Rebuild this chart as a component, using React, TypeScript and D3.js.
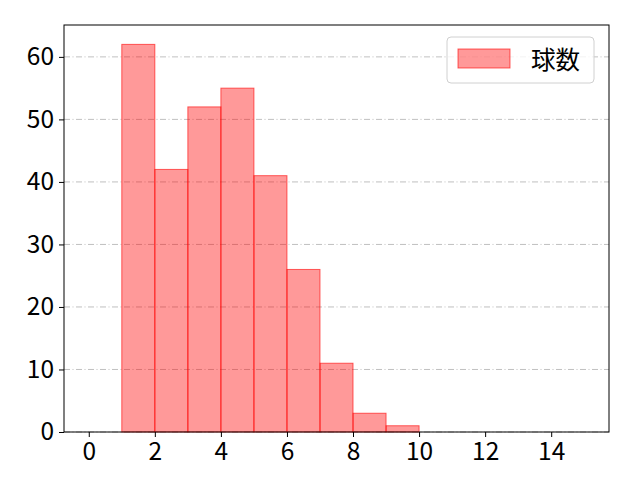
import { useEffect, useRef } from 'react';
import * as d3 from 'd3';

// bin edges 0..15, counts per bin
const binStarts = [0, 1, 2, 3, 4, 5, 6, 7, 8, 9, 10, 11, 12, 13, 14];
const counts = [0, 62, 42, 52, 55, 41, 26, 11, 3, 1, 0, 0, 0, 0, 0];
const xTicks = [0, 2, 4, 6, 8, 10, 12, 14];
const yTicks = [0, 10, 20, 30, 40, 50, 60];
const seriesName = '球数';

const App = () => {
  const ref = useRef<SVGSVGElement | null>(null);

  useEffect(() => {
    if (!ref.current) return;
    const svg = d3.select(ref.current);
    svg.selectAll('*').remove();

    const width = 640;
    const height = 480;
    const margin = { top: 25, right: 31, bottom: 48, left: 64 };
    const innerWidth = width - margin.left - margin.right;
    const innerHeight = height - margin.top - margin.bottom;
    const font = "'Noto Sans CJK JP', 'DejaVu Sans', sans-serif";
    const fontSize = '24.5px';

    const x = d3.scaleLinear().domain([-0.75, 15.75]).range([0, innerWidth]);
    const y = d3.scaleLinear().domain([0, 62 * 1.05]).range([innerHeight, 0]);

    svg.attr('width', width).attr('height', height);
    svg.append('rect').attr('width', width).attr('height', height).attr('fill', '#fff');

    const g = svg.append('g').attr('transform', `translate(${margin.left},${margin.top})`);

    // Grid lines
    g.selectAll('.grid')
      .data(yTicks)
      .enter()
      .append('line')
      .attr('x1', 0)
      .attr('x2', innerWidth)
      .attr('y1', d => y(d))
      .attr('y2', d => y(d))
      .attr('stroke', '#b0b0b0')
      .attr('stroke-width', 0.8)
      .attr('stroke-dasharray', '6,2.5,1,2.5');

    // Bars
    g.selectAll('.bar')
      .data(binStarts)
      .enter()
      .append('rect')
      .attr('x', d => x(d))
      .attr('y', (_, i) => y(counts[i]))
      .attr('width', d => x(d + 1) - x(d))
      .attr('height', (_, i) => innerHeight - y(counts[i]))
      .attr('fill', 'rgba(255,0,0,0.4)')
      .attr('stroke', 'rgba(255,0,0,0.6)')
      .attr('stroke-width', 1);

    // Axes frame
    g.append('rect')
      .attr('width', innerWidth)
      .attr('height', innerHeight)
      .attr('fill', 'none')
      .attr('stroke', '#000')
      .attr('stroke-width', 1);

    const xAxis = g.append('g')
      .attr('transform', `translate(0,${innerHeight})`)
      .call(d3.axisBottom(x).tickValues(xTicks).tickSize(5).tickPadding(3).tickFormat(d3.format('d')));
    xAxis.select('.domain').remove();

    const yAxis = g.append('g')
      .call(d3.axisLeft(y).tickValues(yTicks).tickSize(5).tickPadding(5).tickFormat(d3.format('d')));
    yAxis.select('.domain').remove();

    [xAxis, yAxis].forEach(a => {
      a.selectAll('text').style('font-family', font).style('font-size', fontSize).attr('fill', '#000');
      a.selectAll('line').attr('stroke', '#000');
    });
    xAxis.selectAll('text').attr('dy', '0.8em');

    // Legend
    const lg = g.append('g').attr('transform', `translate(${innerWidth - 162},${12})`);
    lg.append('rect')
      .attr('width', 147)
      .attr('height', 46)
      .attr('rx', 4)
      .attr('fill', 'rgba(255,255,255,0.8)')
      .attr('stroke', '#d0d0d0');
    lg.append('rect')
      .attr('x', 11)
      .attr('y', 12)
      .attr('width', 52)
      .attr('height', 19)
      .attr('fill', 'rgba(255,0,0,0.4)')
      .attr('stroke', 'rgba(255,0,0,0.6)');
    lg.append('text')
      .attr('x', 84)
      .attr('y', 23)
      .attr('dy', '0.35em')
      .style('font-family', font)
      .style('font-size', fontSize)
      .text(seriesName);
  }, []);

  return (
    <div style={{ margin: '-8px' }}>
      <svg ref={ref}></svg>
    </div>
  );
};

export default App;
